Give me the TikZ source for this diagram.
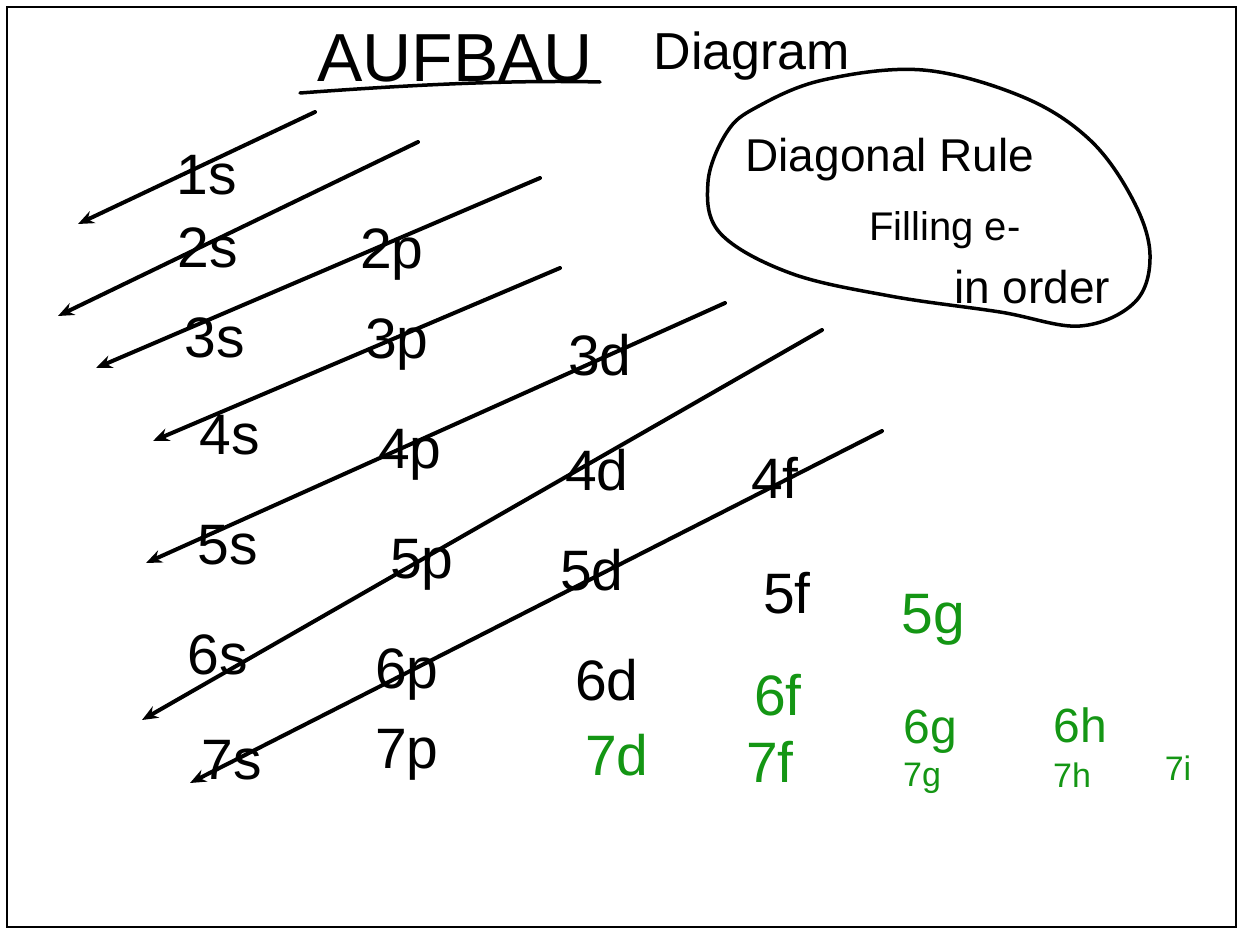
\documentclass[tikz,border=0pt]{standalone}
\usepackage{fontspec}
\setmainfont{Liberation Sans}
\usetikzlibrary{arrows.meta}
\definecolor{inkgreen}{RGB}{20,150,20}
\begin{document}
\begin{tikzpicture}[x=1pt,y=-1pt,
  orb/.style={font=\fontsize{57}{57}\selectfont, inner sep=0pt},
  gorb/.style={orb, text=inkgreen},
  gsmall/.style={font=\fontsize{34}{34}\selectfont, inner sep=0pt, text=inkgreen},
  diagarrow/.style={line width=4pt, line cap=round, -{Stealth[length=16pt,width=13pt]}},
  note/.style={inner sep=0pt}]
\useasboundingbox (0,0) rectangle (1240,929);
\fill[white] (0,0) rectangle (1240,929);
\draw[line width=2pt] (7,7) rectangle (1236,927);

% title
\node[note, font=\fontsize{68}{68}\selectfont] (aufbau) at (455,58) {AUFBAU};
\node[note, font=\fontsize{52}{52}\selectfont] (diagram) at (752,56) {Diagram};
\coordinate (ul1) at (300,93);
\coordinate (ul2) at (600,82);
\draw[line width=3.5pt, line cap=round] (ul1) .. controls (420,84) and (520,80) .. (ul2);

% note bubble
\draw[line width=3.5pt, line cap=round] plot[smooth cycle, tension=0.6] coordinates {
 (727,132) (708,182) (720,233) (790,273) (890,296) (1000,312) (1080,326)
 (1135,302) (1150,255) (1133,200) (1090,140) (1023,97) (923,70) (823,80) (757,107)};
\node[note, font=\fontsize{46}{46}\selectfont] (rule) at (890,160) {Diagonal Rule};
\node[note, font=\fontsize{40}{40}\selectfont] (filling) at (945,230) {Filling e-};
\node[note, font=\fontsize{46}{46}\selectfont] (inorder) at (1032,287) {in order};

% diagonal arrows
\coordinate (d1a) at (315,112); \coordinate (d1b) at (78,224);
\coordinate (d2a) at (418,142); \coordinate (d2b) at (58,316);
\coordinate (d3a) at (540,178); \coordinate (d3b) at (96,368);
\coordinate (d4a) at (560,268); \coordinate (d4b) at (153,441);
\coordinate (d5a) at (725,303); \coordinate (d5b) at (146,563);
\coordinate (d6a) at (822,330); \coordinate (d6b) at (142,720);
\coordinate (d7a) at (882,431); \coordinate (d7b) at (190,783);
\foreach \i in {1,...,7} { \draw[diagarrow] (d\i a) -- (d\i b); }

% orbitals (black)
\node[orb] (o1s) at (207,175) {1s};
\node[orb] (o2s) at (208,248) {2s};
\node[orb] (o2p) at (392,255) {2p};
\node[orb] (o3s) at (215,338) {3s};
\node[orb] (o3p) at (397,345) {3p};
\node[orb] (o3d) at (600,355) {3d};
\node[orb] (o4s) at (230,435) {4s};
\node[orb] (o4p) at (410,455) {4p};
\node[orb] (o4d) at (597,470) {4d};
\node[orb] (o4f) at (775,478) {4f};
\node[orb] (o5s) at (228,545) {5s};
\node[orb] (o5p) at (422,565) {5p};
\node[orb] (o5d) at (592,570) {5d};
\node[orb] (o5f) at (787,593) {5f};
\node[orb] (o6s) at (218,655) {6s};
\node[orb] (o6p) at (407,675) {6p};
\node[orb] (o6d) at (607,680) {6d};
\node[orb] (o7s) at (232,760) {7s};
\node[orb] (o7p) at (407,755) {7p};

% orbitals (green)
\node[gorb] (o7d) at (617,755) {7d};
\node[gorb] (o6f) at (778,695) {6f};
\node[gorb] (o7f) at (770,762) {7f};
\node[gorb] (o5g) at (933,620) {5g};
\node[gorb, font=\fontsize{48}{48}\selectfont] (o6g) at (930,732) {6g};
\node[gsmall] (o7g) at (922,778) {7g};
\node[gorb, font=\fontsize{48}{48}\selectfont] (o6h) at (1080,725) {6h};
\node[gsmall] (o7h) at (1072,775) {7h};
\node[gsmall] (o7i) at (1178,768) {7i};
\end{tikzpicture}
\end{document}
